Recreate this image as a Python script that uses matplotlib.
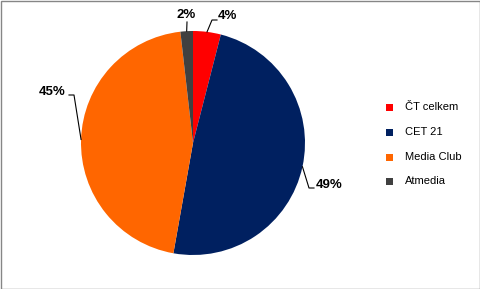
import numpy as np
import matplotlib
matplotlib.use("Agg")
import matplotlib.pyplot as plt
from matplotlib.patches import Rectangle

categories = ["ČT celkem", "CET 21", "Media Club", "Atmedia"]
shares = [4.0, 48.8, 45.4, 1.8]
labels = ["4%", "49%", "45%", "2%"]
colors = ["#FF0000", "#002060", "#FF6600", "#404040"]

W, H = 481, 289
fig = plt.figure(figsize=(W / 100, H / 100), dpi=100)
ax = fig.add_axes([0, 0, 1, 1])

cx, cy, r = 193, 146, 112
wedges, _ = ax.pie(shares, colors=colors, startangle=90, counterclock=False,
                   center=(cx, cy), radius=r, frame=True)
ax.set_xlim(0, W)
ax.set_ylim(0, H)
ax.set_aspect("equal")
ax.axis("off")

# label layout: (elbow, end of line, text pos, ha)
layout = [
    ((212, 269), (217, 269), (218, 273), "left"),
    ((309, 101), (314, 101), (316, 104), "left"),
    ((74, 194), (69, 194), (66, 197), "right"),
    ((187, 267), (187, 267), (186, 274), "center"),
]
for w, lab, (elb, end, tpos, ha) in zip(wedges, labels, layout):
    mid = np.deg2rad((w.theta1 + w.theta2) / 2)
    ex, ey = cx + r * np.cos(mid), cy + r * np.sin(mid)
    ax.plot([ex, elb[0], end[0]], [ey, elb[1], end[1]], color="black", lw=0.8)
    ax.text(tpos[0], tpos[1], lab, ha=ha, va="center", fontsize=9.5,
            fontweight="bold", family="Liberation Sans", color="black")

# legend
ly = [182, 157, 132, 108]
for cat, col, y in zip(categories, colors, ly):
    ax.add_patch(Rectangle((386, y - 3.5), 7, 7, facecolor=col, edgecolor="none"))
    ax.text(405, y, cat, ha="left", va="center", fontsize=8,
            family="Liberation Sans", color="black")

fig.patches.append(Rectangle((0.5 / W, 0.5 / H), 1 - 1.5 / W, 1 - 1.5 / H,
                             transform=fig.transFigure, fill=False,
                             edgecolor="#868686", lw=1))
fig.savefig("out.png", dpi=100)
